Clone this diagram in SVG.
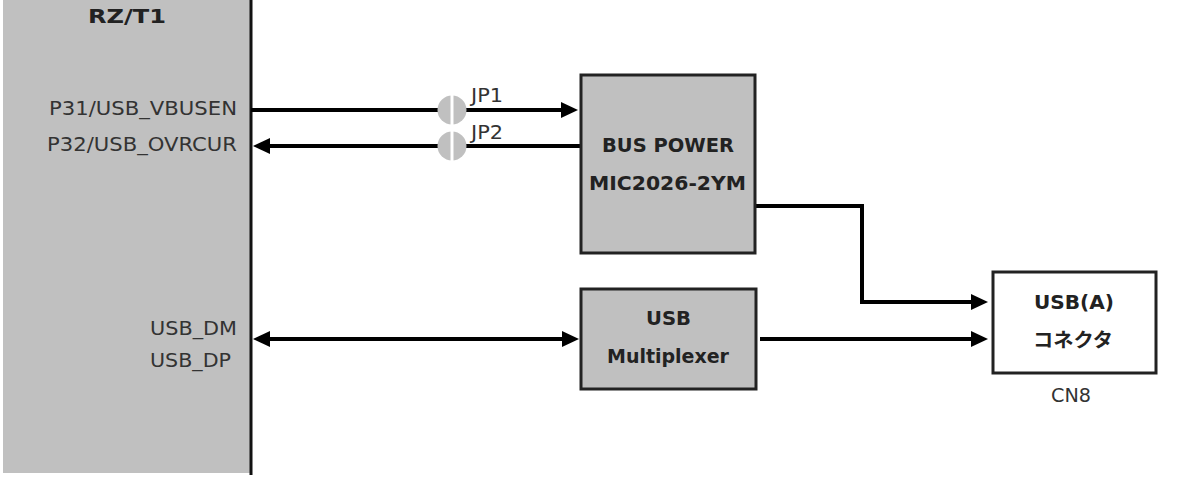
<svg xmlns="http://www.w3.org/2000/svg" width="1177" height="484" viewBox="0 0 1177 484">
<style>
.t{font-family:"DejaVu Sans","Liberation Sans",sans-serif;font-size:20px;fill:#333}
.b{font-family:"DejaVu Sans","Noto Sans CJK JP",sans-serif;font-weight:bold;font-size:19px;fill:#222}
.box{fill:#c0c0c0;stroke:#222;stroke-width:3}
.wbox{fill:#fff;stroke:#222;stroke-width:3}
.ln{fill:none;stroke:#000;stroke-width:4}
.jp{fill:#c0c0c0}
.gap{stroke:#fff;stroke-width:3}
</style>
<defs>
<marker id="ah" markerUnits="userSpaceOnUse" markerWidth="17" markerHeight="16" viewBox="0 0 17 16" refX="0" refY="8" orient="auto-start-reverse">
<path d="M0,0 L17,8 L0,16 z" fill="#000"/>
</marker>
</defs>
<g id="rzt1">
<rect x="3" y="0" width="248" height="473" fill="#c0c0c0"/>
<line x1="251" y1="0" x2="251" y2="475" stroke="#111" stroke-width="3"/>
<text class="b" x="88" y="23" font-size="23" textLength="78" lengthAdjust="spacingAndGlyphs">RZ/T1</text>
<text class="t" x="237" y="115" text-anchor="end" textLength="188" lengthAdjust="spacingAndGlyphs">P31/USB_VBUSEN</text>
<text class="t" x="237" y="151" text-anchor="end" textLength="190" lengthAdjust="spacingAndGlyphs">P32/USB_OVRCUR</text>
<text class="t" x="150" y="335" textLength="87" lengthAdjust="spacingAndGlyphs">USB_DM</text>
<text class="t" x="150" y="367" textLength="81" lengthAdjust="spacingAndGlyphs">USB_DP</text>
</g>
<g id="connectors">
<line class="ln" x1="251" y1="110" x2="561" y2="110" marker-end="url(#ah)"/>
<line class="ln" x1="581" y1="146" x2="270" y2="146" marker-end="url(#ah)"/>
<polyline class="ln" points="755,206 862,206 862,302 971,302" marker-end="url(#ah)"/>
<line class="ln" x1="760" y1="339" x2="971" y2="339" marker-end="url(#ah)"/>
<line class="ln" x1="270" y1="339" x2="562" y2="339" marker-start="url(#ah)" marker-end="url(#ah)"/>
</g>
<g id="jp1">
<circle class="jp" cx="452" cy="110" r="14.5"/>
<line class="gap" x1="452" y1="94" x2="452" y2="126"/>
<text class="t" x="471" y="102" font-size="18" textLength="32" lengthAdjust="spacingAndGlyphs">JP1</text>
</g>
<g id="jp2">
<circle class="jp" cx="452" cy="146" r="14.5"/>
<line class="gap" x1="452" y1="130" x2="452" y2="162"/>
<text class="t" x="471" y="139" font-size="18" textLength="32" lengthAdjust="spacingAndGlyphs">JP2</text>
</g>
<g id="buspower">
<rect class="box" x="581" y="75" width="174" height="178"/>
<text class="b" x="602" y="152" textLength="132" lengthAdjust="spacingAndGlyphs">BUS POWER</text>
<text class="b" x="589" y="190" textLength="157" lengthAdjust="spacingAndGlyphs">MIC2026-2YM</text>
</g>
<g id="usbmux">
<rect class="box" x="581" y="289" width="175" height="100"/>
<text class="b" x="646" y="325" textLength="45" lengthAdjust="spacingAndGlyphs">USB</text>
<text class="b" x="607" y="363" textLength="122" lengthAdjust="spacingAndGlyphs">Multiplexer</text>
</g>
<g id="usba">
<rect class="wbox" x="993" y="272" width="163" height="101"/>
<text class="b" x="1034" y="309" textLength="80" lengthAdjust="spacingAndGlyphs">USB(A)</text>
<text class="b" x="1033" y="347" textLength="80" lengthAdjust="spacingAndGlyphs">コネクタ</text>
<text class="t" x="1051" y="402" font-size="18" textLength="40" lengthAdjust="spacingAndGlyphs">CN8</text>
</g>
</svg>
